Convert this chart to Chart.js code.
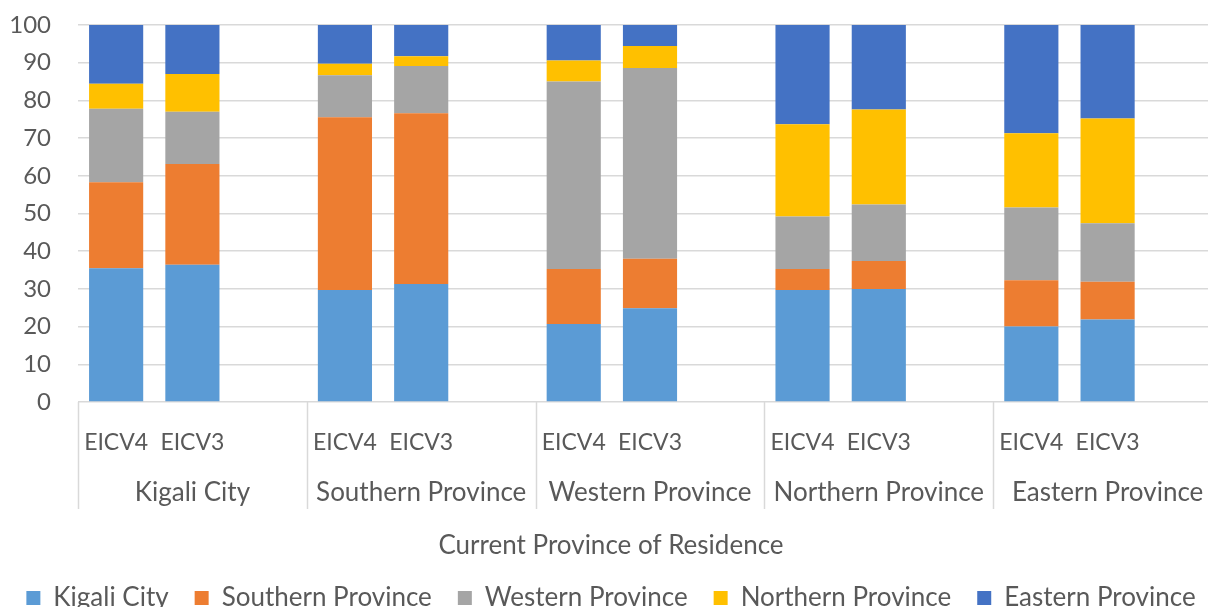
<!DOCTYPE html>
<html>
<head>
<meta charset="utf-8">
<script src="https://cdn.jsdelivr.net/npm/chart.js@4.4.1/dist/chart.umd.min.js"></script>
<style>
  html, body { margin: 0; padding: 0; overflow: hidden; background: #ffffff; }
  #wrap { width: 1225px; height: 621px; }
</style>
</head>
<body>
<div id="wrap"><canvas id="c" width="1225" height="621"></canvas></div>
<script>
// Groups (current province of residence) and surveys within each group
const provinces = ['Kigali City', 'Southern Province', 'Western Province', 'Northern Province', 'Eastern Province'];
const surveys = ['EICV4', 'EICV3'];

// Series: province of origin shares (%), ordered [group1 EICV4, group1 EICV3, group2 EICV4, ...]
const kigaliCity        = [35.5, 36.4, 29.7, 31.3, 20.7, 24.9, 29.7, 30.0, 20.0, 21.9];
const southernProvince  = [22.8, 26.7, 45.8, 45.3, 14.6, 13.1,  5.6,  7.4, 12.3, 10.0];
const westernProvince   = [19.5, 13.9, 11.2, 12.5, 49.7, 50.6, 13.9, 15.0, 19.3, 15.5];
const northernProvince  = [ 6.6, 10.0,  3.0,  2.6,  5.6,  5.8, 24.5, 25.2, 19.7, 27.8];
const easternProvince   = [15.6, 13.0, 10.3,  8.3,  9.4,  5.6, 26.3, 22.4, 28.7, 24.8];

const seriesNames = ['Kigali City', 'Southern Province', 'Western Province', 'Northern Province', 'Eastern Province'];
const yTicks = [0, 10, 20, 30, 40, 50, 60, 70, 80, 90, 100];

// Build category axis: EICV4, EICV3, blank slot per group
const xLabels = [];
provinces.forEach(() => { surveys.forEach(s => xLabels.push(s)); xLabels.push(''); });
function expand(arr) {
  const out = [];
  for (let g = 0; g < provinces.length; g++) {
    for (let s = 0; s < surveys.length; s++) out.push(arr[g * surveys.length + s]);
    out.push(null);
  }
  return out;
}

const colors = ['#5B9BD5', '#ED7D31', '#A5A5A5', '#FFC000', '#4472C4'];
const seriesData = [kigaliCity, southernProvince, westernProvince, northernProvince, easternProvince];
const TEXT = '#595959';
const GRID = '#d9d9d9';
const FONT = 'Lato';

const groupSeparators = {
  id: 'groupSeparators',
  afterDraw(chart) {
    const x = chart.scales.x, x2 = chart.scales.x2;
    const band = x.getPixelForValue(1) - x.getPixelForValue(0);
    const ctx = chart.ctx;
    ctx.save();
    ctx.strokeStyle = GRID;
    ctx.lineWidth = 1.5;
    const top = chart.chartArea.bottom;
    const bottom = x2.top + 43;
    for (let g = 0; g <= provinces.length; g++) {
      const px = Math.round(x.getPixelForValue(g * 3) - band / 2) + 0.5;
      ctx.beginPath();
      ctx.moveTo(px, top);
      ctx.lineTo(px, bottom);
      ctx.stroke();
    }
    ctx.restore();
  }
};

function draw() {
  Chart.defaults.font.family = FONT;
  Chart.defaults.color = TEXT;
  new Chart(document.getElementById('c'), {
    type: 'bar',
    data: {
      labels: xLabels,
      datasets: seriesData.map((d, i) => ({
        label: seriesNames[i],
        data: expand(d),
        backgroundColor: colors[i],
        borderWidth: 0,
        barPercentage: 0.71,
        categoryPercentage: 1.0,
        xAxisID: 'x',
        yAxisID: 'y'
      }))
    },
    options: {
      responsive: false,
      devicePixelRatio: 1,
      animation: false,
      layout: { padding: { top: 25, right: 3, bottom: 0, left: 0 } },
      scales: {
        y: {
          stacked: true,
          min: 0, max: 100,
          afterBuildTicks: (s) => { s.ticks = yTicks.map(v => ({ value: v })); },
          ticks: { font: { size: 24 }, color: TEXT, padding: 0 },
          grid: { color: GRID, lineWidth: 1.5, drawTicks: true, tickLength: 27, tickColor: 'rgba(0,0,0,0)' },
          border: { display: false },
          afterFit: (s) => { s.width = 78; }
        },
        x: {
          stacked: true,
          weight: 0,
          ticks: { font: { size: 23 }, color: TEXT, padding: 27, autoSkip: false, maxRotation: 0, minRotation: 0 },
          grid: { display: false, drawTicks: false },
          border: { display: false },
          afterFit: (s) => { s.height = 64; }
        },
        x2: {
          type: 'category',
          position: 'bottom',
          weight: 1,
          labels: provinces,
          offset: true,
          ticks: { font: { size: 26 }, color: TEXT, padding: 11, autoSkip: false, maxRotation: 0, minRotation: 0 },
          grid: { display: false, drawTicks: false },
          border: { display: false },
          afterFit: (s) => { s.height = 67; }
        }
      },
      plugins: {
        tooltip: { enabled: false },
        title: {
          display: true,
          position: 'bottom',
          text: 'Current Province of Residence',
          font: { size: 26, weight: 'normal', lineHeight: 1 },
          color: TEXT,
          padding: 0,
          weight: 500,
          fullSize: true
        },
        legend: {
          position: 'bottom',
          labels: { font: { size: 26 }, color: TEXT, boxWidth: 14, boxHeight: 14, padding: 26 }
        }
      }
    },
    plugins: [groupSeparators]
  });
}

if (document.fonts && document.fonts.load) {
  document.fonts.load('26px Lato').then(draw, draw);
} else {
  draw();
}
</script>
</body>
</html>
